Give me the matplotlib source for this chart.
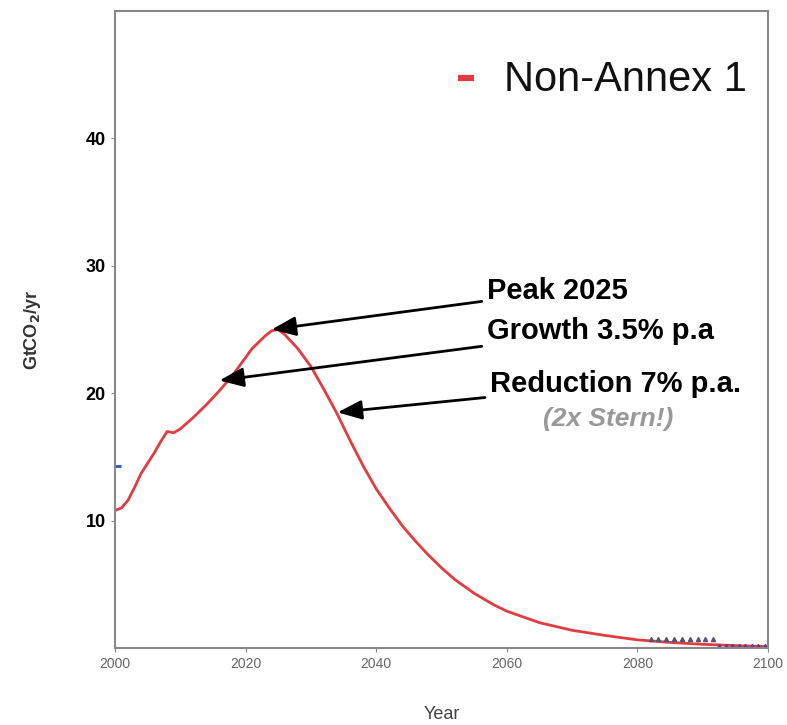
import numpy as np
import matplotlib
matplotlib.use('Agg')
import matplotlib.pyplot as plt

plt.rcParams['font.family'] = ['Liberation Sans', 'DejaVu Sans']

# Non-Annex 1 emissions pathway
years = [2000, 2001, 2002, 2003, 2004, 2005, 2006, 2007, 2008, 2009, 2010,
         2012, 2014, 2016, 2018, 2020, 2021, 2022, 2023, 2024, 2025, 2026,
         2028, 2030, 2032, 2034, 2036, 2038, 2040, 2042, 2044, 2046, 2048,
         2050, 2052, 2055, 2058, 2060, 2065, 2070, 2075, 2080, 2085, 2090,
         2095, 2100]
emissions = [10.8, 11.0, 11.6, 12.6, 13.7, 14.5, 15.3, 16.2, 17.0, 16.9, 17.2,
             18.1, 19.1, 20.2, 21.4, 22.8, 23.5, 24.0, 24.5, 24.9, 25.0, 24.6,
             23.5, 22.1, 20.3, 18.4, 16.3, 14.3, 12.5, 11.0, 9.6, 8.4, 7.3,
             6.3, 5.4, 4.3, 3.4, 2.9, 2.0, 1.4, 1.0, 0.65, 0.45, 0.3,
             0.2, 0.12]

yticks = [10, 20, 30, 40]
xticks = [2000, 2020, 2040, 2060, 2080, 2100]

fig = plt.figure(figsize=(7.87, 7.25), dpi=100)
ax = fig.add_axes([0.146, 0.106, 0.83, 0.879])

ax.plot(years, emissions, color='#e23c40', lw=2.0)

# small leftover markers from the original figure
ax.plot([2000.3], [14.3], marker='_', color='#3050c0', ms=6, mew=2)
ax.plot(np.arange(2082, 2092, 1.2), [0.7] * 9, ls='none', marker='^',
        color='#555577', ms=3)
ax.plot(np.arange(2092.5, 2100, 1.0), [0.2] * 8, ls='none', marker='^',
        color='#5a3a9a', ms=3)

ax.set_xlim(2000, 2100)
ax.set_ylim(0, 50)
ax.set_yticks(yticks)
ax.set_yticklabels([str(t) for t in yticks], fontsize=13, fontweight='bold')
ax.set_xticks(xticks)
ax.set_xticklabels([str(t) for t in xticks], fontsize=10, color='#666666')
ax.tick_params(axis='both', length=3, color='#888888')
for s in ax.spines.values():
    s.set_color('#888888')
    s.set_linewidth(1.5)

ax.set_xlabel('Year', fontsize=13, color='#444444', labelpad=25)
ax.set_ylabel('GtCO$_\\mathbf{2}$/yr', fontsize=13, fontweight='bold',
              color='#333333', labelpad=31)

# legend entry
ax.plot([2052.5, 2055.0], [44.7, 44.7], color='#e23c40', lw=4.5,
        solid_capstyle='butt')
ax.text(2059.5, 44.6, 'Non-Annex 1', fontsize=30, va='center', ha='left',
        color='#111111')

arrow = dict(arrowstyle='-|>,head_length=0.7,head_width=0.28', color='black',
             lw=2, shrinkA=2, shrinkB=0)
ax.annotate('Peak 2025', xy=(2024, 25.0), xytext=(2057, 28.0),
            fontsize=21, fontweight='bold', va='center', ha='left',
            arrowprops=arrow)
ax.annotate('Growth 3.5% p.a', xy=(2016, 21.0), xytext=(2057, 24.9),
            fontsize=21, fontweight='bold', va='center', ha='left',
            arrowprops=arrow)
ax.annotate('Reduction 7% p.a.', xy=(2034.1, 18.5), xytext=(2057.5, 20.7),
            fontsize=21, fontweight='bold', va='center', ha='left',
            arrowprops=arrow)
ax.text(2075.5, 18.0, '(2x Stern!)', fontsize=19, fontweight='bold',
        fontstyle='italic', color='#999999', ha='center', va='center')

fig.savefig('out.png', dpi=100)
